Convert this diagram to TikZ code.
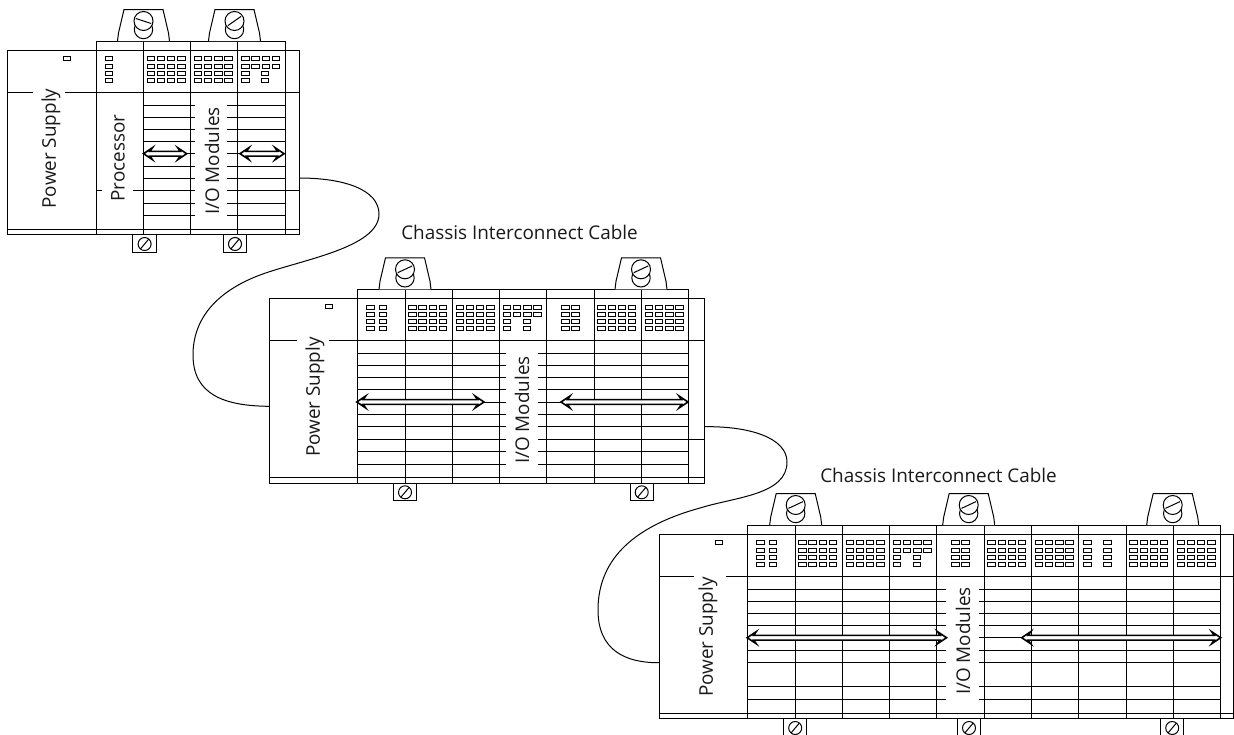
\documentclass[tikz,border=0pt]{standalone}
\usepackage{fontspec}
\setmainfont{Open Sans}
\tikzset{
  frameline/.style={line width=1pt, draw=black},
  ledbox/.style={line width=.9pt, draw=black},
  labeltext/.style={font=\fontsize{18.9}{22}\selectfont, text=black!90, inner sep=0pt},
  widearrow/.style={line width=1.6pt, draw=black, fill=white, line join=miter},
  cableline/.style={line width=1pt, draw=black}
}
% module contents, #1 is the slot number
\newcommand{\ledset}[3]{
  \begin{scope}[xshift={#1*47.3pt}]
    \foreach \ledx in {#2} \foreach \ledy in {#3}
      \draw[ledbox] (\ledx,\ledy) rectangle ++(7.4,4);
  \end{scope}
}
\newcommand{\modsingle}[1]{\ledset{#1}{9.5}{6.7,14,21,28}}
\newcommand{\moddual}[1]{\ledset{#1}{9.2,21.6}{6.7,14,21,28}}
\newcommand{\modgrid}[1]{\ledset{#1}{3.7,13.9,24.1,34.3}{6.7,14,21,28}}
\newcommand{\modsparse}[1]{\ledset{#1}{3.7,13.9,24.1,34.3}{6.7,14}\ledset{#1}{3.7,23.6}{21,28}}
\newcommand{\modpair}[1]{\ledset{#1}{15,25}{6.7,14,21,28}}
\newcommand{\modwide}[1]{\ledset{#1}{5,25}{6.7,14,21,28}}
% clamps, #1 is x, #2 the angle of the slot
\newcommand{\topclamp}[2]{
  \draw[frameline, fill=white] (#1-26,-9) -- (#1-25,-17) -- (#1-19.5,-40.5) -- (#1+19.5,-40.5) -- (#1+25,-17) -- (#1+26,-9);
  \draw[frameline, fill=white] (#1,-20.5) circle [radius=9.2pt];
  \draw[frameline, fill=white] (#1,-29) circle [radius=9.5pt];
  \draw[frameline] (#1,-29) ++(#2:8pt) -- ++(#2+180:16pt);
}
\newcommand{\botclamp}[1]{
  \draw[frameline] (#1-11.7,184.7) rectangle (#1+11.7,202);
  \draw[frameline] (#1,194) circle [radius=6.5pt];
  \draw[frameline] (#1,194) ++(50:6.5pt) -- ++(230:13pt);
}
% #1 slots, #2 right edge, #3 gap in the supply line
\newcommand{\chassisframe}[3]{
  \draw[frameline] (-88.3,0) rectangle (#2,184.7);
  \draw[frameline] (-88.3,179) -- (#2,179);
  \draw[frameline] (0,-9) -- (#1*47.3,-9);
  \draw[frameline] (-88.3,42.4) -- (#3,42.4);
  \draw[frameline] (#3+32,42.4) -- (#2,42.4);
  \foreach \slot in {0,...,#1}
    \draw[frameline] (\slot*47.3,-9) -- (\slot*47.3,184.7);
}
% #1 left start, #2 gap start, #3 gap end, #4 right end, #5 heights
\newcommand{\rowlines}[5]{
  \foreach \rowy in {#5} {
    \draw[frameline] (#1,\rowy) -- (#2,\rowy);
    \draw[frameline] (#3,\rowy) -- (#4,\rowy);
  }
}
\newcommand{\widearrow}[2]{
  \draw[widearrow] (#1,103.7) -- (#1+9,97.7) -- (#1+6.5,101.3) -- (#2-6.5,101.3) -- (#2-9,97.7) -- (#2,103.7)
    -- (#2-9,109.7) -- (#2-6.5,106.1) -- (#1+6.5,106.1) -- (#1+9,109.7) -- cycle;
}
\begin{document}
\begin{tikzpicture}[x=1pt,y=-1pt]
  \useasboundingbox (0,0) rectangle (1234,734);
  \clip (0,0) rectangle (1234,734);

  % first chassis
  \begin{scope}[shift={(96,50)}]
    \chassisframe{4}{203}{-63}
    \rowlines{47.3}{99}{131}{189.2}{55,67,79.4,91.4,103.7,116,128.4,153.4,165.7}
    \rowlines{47.3}{99}{131}{203}{140.7}
    \draw[frameline] (0,140.7) -- (6,140.7);
    \draw[frameline] (37,140.7) -- (47.3,140.7);
    \topclamp{47.5}{-18}
    \topclamp{138.5}{35}
    \botclamp{48.6}
    \botclamp{139}
    \draw[ledbox] (-33,6.3) rectangle ++(7,4);
    \modsingle{0} \modgrid{1} \modgrid{2} \modsparse{3}
    \widearrow{47.5}{90.7}
    \widearrow{144}{188}
    \coordinate (cableAout) at (203,128);
    \node[labeltext, rotate=90] (supplyA) at (-45,98.5) {Power Supply};
    \node[labeltext, rotate=90] (procA) at (22,108) {Processor};
    \node[labeltext, rotate=90] (modulesA) at (116,111) {I/O Modules};
  \end{scope}

  % second chassis
  \begin{scope}[shift={(357.7,298.3)}]
    \chassisframe{7}{346.3}{-61}
    \rowlines{0}{148.3}{180.3}{331}{55,67,79.4,91.4,103.7,116,128.4,153.4,165.7}
    \rowlines{0}{148.3}{180.3}{346.3}{140.7}
    \topclamp{47.3}{25}
    \topclamp{283.3}{25}
    \botclamp{47.3}
    \botclamp{284}
    \draw[ledbox] (-32,6) rectangle ++(7,4);
    \moddual{0} \modgrid{1} \modgrid{2} \modsparse{3} \modpair{4} \modgrid{5} \modgrid{6}
    \widearrow{-1}{126.3}
    \widearrow{203.3}{330.3}
    \coordinate (cableBin) at (-88.3,108);
    \coordinate (cableBout) at (346.3,128.4);
    \node[labeltext, rotate=90] (supplyB) at (-42.7,98.7) {Power Supply};
    \node[labeltext, rotate=90] (modulesB) at (164.3,111.7) {I/O Modules};
  \end{scope}

  % third chassis
  \begin{scope}[shift={(747.7,534)}]
    \chassisframe{10}{485.3}{-53.6}
    \rowlines{0}{198.4}{231}{473}{55,67,79.4,91.4,103.7,116,128.4,152.9,165.4}
    \topclamp{48}{25}
    \topclamp{221}{25}
    \topclamp{425}{25}
    \botclamp{47.5}
    \botclamp{221.3}
    \botclamp{424.5}
    \draw[ledbox] (-32,6.3) rectangle ++(6.5,4);
    \moddual{0} \modgrid{1} \modgrid{2} \modsparse{3} \modpair{4} \modgrid{5} \modgrid{6} \modwide{7} \modgrid{8} \modgrid{9}
    \widearrow{-0.5}{198.8}
    \widearrow{274}{473}
    \coordinate (cableCin) at (-88.3,128.7);
    \node[labeltext, rotate=90] (supplyC) at (-39.7,103) {Power Supply};
    \node[labeltext, rotate=90] (modulesC) at (215.3,107) {I/O Modules};
  \end{scope}

  \node[labeltext] (cableTextA) at (519.5,232) {Chassis Interconnect Cable};
  \node[labeltext] (cableTextB) at (938.5,475) {Chassis Interconnect Cable};

  \draw[cableline] (cableAout) .. controls (345,178) and (379,190) .. (379,214)
    .. controls (379,248) and (300,260) .. (260,275)
    .. controls (215,292) and (193,320) .. (193,355)
    .. controls (193,395) and (225,406) .. (cableBin);
  \draw[cableline] (cableBout) .. controls (750,426) and (787,438) .. (787,462)
    .. controls (787,495) and (735,497) .. (700,508)
    .. controls (620,530) and (598,570) .. (598,610)
    .. controls (598,650) and (625,663) .. (cableCin);
\end{tikzpicture}
\end{document}
